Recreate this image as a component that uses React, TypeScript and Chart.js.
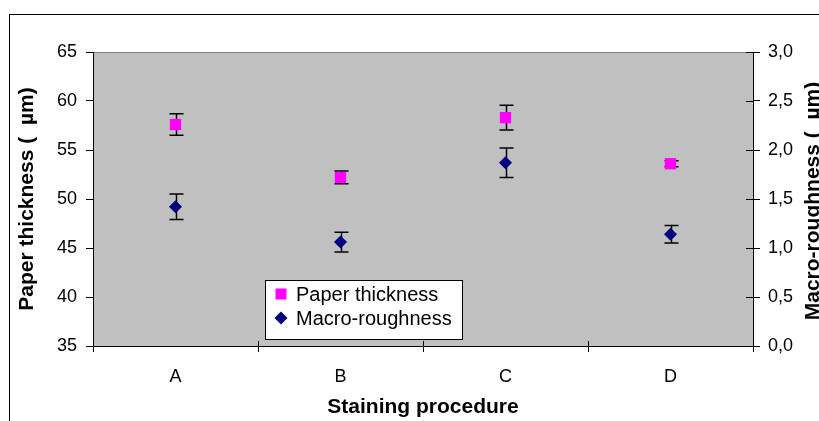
import React, { useEffect, useRef } from 'react';
import { Chart, registerables } from 'chart.js';

Chart.register(...registerables);

// ---- data ----
const categories = ['A', 'B', 'C', 'D'];
const paperThickness = [57.6, 52.2, 58.3, 53.6];
const paperThicknessErr = [1.1, 0.65, 1.26, 0.3];
const macroRoughness = [1.42, 1.06, 1.87, 1.14];
const macroRoughnessErr = [0.13, 0.1, 0.15, 0.09];
const seriesLabels = ['Paper thickness', 'Macro-roughness'];
const leftAxisRange = [35, 65, 5];
const rightAxisRange = [0, 3, 0.5];
const xTitle = 'Staining procedure';
const leftTitle = 'Paper thickness (  µm)';
const rightTitle = 'Macro-roughness (  µm)';

const FONT = '"Liberation Sans", Arial, sans-serif';
const PINK = '#FF00FF';
const NAVY = '#000080';

const errors = [paperThicknessErr, macroRoughnessErr];

const decorPlugin = {
  id: 'decor',
  beforeDraw(chart: any) {
    const { ctx, chartArea: a } = chart;
    ctx.save();
    ctx.fillStyle = '#C0C0C0';
    ctx.fillRect(a.left, a.top, a.right - a.left, a.bottom - a.top);
    ctx.strokeStyle = '#808080';
    ctx.lineWidth = 1;
    ctx.beginPath();
    ctx.moveTo(a.left, Math.round(a.top) + 0.5);
    ctx.lineTo(a.right, Math.round(a.top) + 0.5);
    ctx.stroke();
    ctx.restore();
  },
  beforeDatasetsDraw(chart: any) {
    const { ctx } = chart;
    ctx.save();
    ctx.strokeStyle = '#000';
    ctx.lineWidth = 1.5;
    chart.data.datasets.forEach((ds: any, di: number) => {
      const meta = chart.getDatasetMeta(di);
      const scale = chart.scales[ds.yAxisID];
      meta.data.forEach((pt: any, i: number) => {
        const v = ds.data[i];
        const e = errors[di][i];
        const yTop = scale.getPixelForValue(v + e);
        const yBot = scale.getPixelForValue(v - e);
        const x = Math.round(pt.x) + 0.5;
        ctx.beginPath();
        ctx.moveTo(x, yTop);
        ctx.lineTo(x, yBot);
        ctx.moveTo(x - 7, yTop);
        ctx.lineTo(x + 7, yTop);
        ctx.moveTo(x - 7, yBot);
        ctx.lineTo(x + 7, yBot);
        ctx.stroke();
      });
    });
    ctx.restore();
  },
  afterDraw(chart: any) {
    const { ctx, chartArea: a } = chart;
    ctx.save();
    // outer frame
    ctx.strokeStyle = '#000';
    ctx.lineWidth = 1;
    ctx.strokeRect(9.5, 14.5, 2000, 2000);

    // inner tick marks (cross ticks) on x and right axes
    const xs = chart.scales.x;
    ctx.beginPath();
    for (let i = 0; i <= categories.length; i++) {
      const px = Math.round(xs.getPixelForValue(i - 0.5)) + 0.5;
      ctx.moveTo(px, a.bottom - 5);
      ctx.lineTo(px, a.bottom);
    }
    const ys = chart.scales.y1;
    ys.ticks.forEach((t: any) => {
      const py = Math.round(ys.getPixelForValue(t.value)) + 0.5;
      ctx.moveTo(a.right - 7, py);
      ctx.lineTo(a.right, py);
    });
    ctx.stroke();

    // right axis title (reads bottom to top)
    ctx.save();
    ctx.translate(813, (a.top + a.bottom) / 2 + 2);
    ctx.rotate(-Math.PI / 2);
    ctx.font = `bold 21px ${FONT}`;
    ctx.fillStyle = '#000';
    ctx.textAlign = 'center';
    ctx.textBaseline = 'middle';
    ctx.fillText(rightTitle, 0, 0);
    ctx.restore();

    // legend
    const lx = 265.5, ly = 280.5, lw = 197, lh = 59;
    ctx.fillStyle = '#FFFFFF';
    ctx.fillRect(lx, ly, lw, lh);
    ctx.strokeStyle = '#000';
    ctx.strokeRect(lx, ly, lw, lh);
    ctx.font = `20px ${FONT}`;
    ctx.textBaseline = 'alphabetic';
    ctx.textAlign = 'left';
    chart.data.datasets.forEach((ds: any, di: number) => {
      const cy = 294 + di * 24;
      ctx.fillStyle = ds.backgroundColor;
      if (ds.pointStyle === 'rect') {
        ctx.fillRect(275.5, cy - 5.5, 11, 11);
      } else {
        ctx.beginPath();
        ctx.moveTo(281, cy - 6.5);
        ctx.lineTo(287.5, cy);
        ctx.lineTo(281, cy + 6.5);
        ctx.lineTo(274.5, cy);
        ctx.closePath();
        ctx.fill();
      }
      ctx.fillStyle = '#000';
      ctx.fillText(ds.label, 296, cy + 6.5);
    });
    ctx.restore();
  },
};

export default function App() {
  const ref = useRef<HTMLCanvasElement | null>(null);
  useEffect(() => {
    if (!ref.current) return;
    const chart = new Chart(ref.current, {
      type: 'line',
      data: {
        labels: categories,
        datasets: [
          {
            label: seriesLabels[0],
            data: paperThickness,
            yAxisID: 'y',
            showLine: false,
            pointStyle: 'rect',
            pointRadius: 8,
            pointHoverRadius: 8,
            backgroundColor: PINK,
            borderColor: PINK,
            pointBorderWidth: 0,
          },
          {
            label: seriesLabels[1],
            data: macroRoughness,
            yAxisID: 'y1',
            showLine: false,
            pointStyle: 'rectRot',
            pointRadius: 6.5,
            pointHoverRadius: 6.5,
            backgroundColor: NAVY,
            borderColor: NAVY,
            pointBorderWidth: 0,
          },
        ],
      },
      plugins: [decorPlugin],
      options: {
        responsive: false,
        maintainAspectRatio: false,
        animation: false,
        events: [],
        layout: { padding: { top: 52, left: 0, right: 0, bottom: 0 } },
        plugins: { legend: { display: false }, tooltip: { enabled: false } },
        scales: {
          x: {
            type: 'category',
            offset: true,
            grid: { offset: true, drawOnChartArea: false, drawTicks: true, tickLength: 6, color: '#000' },
            border: { display: true, color: '#000', width: 1 },
            ticks: { color: '#000', font: { family: FONT, size: 18 }, padding: 14 },
            title: {
              display: true,
              text: xTitle,
              color: '#000',
              font: { family: FONT, size: 21, weight: 'bold' },
              padding: { top: 0, bottom: 1.5 },
            },
            afterFit: (s: any) => { s.height = 75; },
          },
          y: {
            position: 'left',
            min: leftAxisRange[0],
            max: leftAxisRange[1],
            grid: { drawOnChartArea: false, drawTicks: true, tickLength: 7, color: '#000' },
            border: { display: true, color: '#000', width: 1 },
            ticks: { stepSize: leftAxisRange[2], color: '#000', font: { family: FONT, size: 18 }, padding: 9 },
            title: {
              display: true,
              text: leftTitle,
              color: '#000',
              font: { family: FONT, size: 21, weight: 'bold' },
              padding: { top: 14.5, bottom: 0 },
            },
            afterFit: (s: any) => { s.width = 93; },
          },
          y1: {
            position: 'right',
            min: rightAxisRange[0],
            max: rightAxisRange[1],
            grid: { drawOnChartArea: false, drawTicks: true, tickLength: 7, color: '#000' },
            border: { display: true, color: '#000', width: 1 },
            ticks: {
              stepSize: rightAxisRange[2],
              color: '#000',
              font: { family: FONT, size: 18 },
              padding: 8,
              callback: (v: any) => Number(v).toFixed(1).replace('.', ','),
            },
            afterFit: (s: any) => { s.width = 66; },
          },
        },
      },
    });
    return () => chart.destroy();
  }, []);

  return (
    <div style={{ position: 'absolute', left: 0, top: 0, width: 819, height: 421 }}>
      <canvas ref={ref} width={819} height={421} style={{ width: 819, height: 421, display: 'block' }} />
    </div>
  );
}
